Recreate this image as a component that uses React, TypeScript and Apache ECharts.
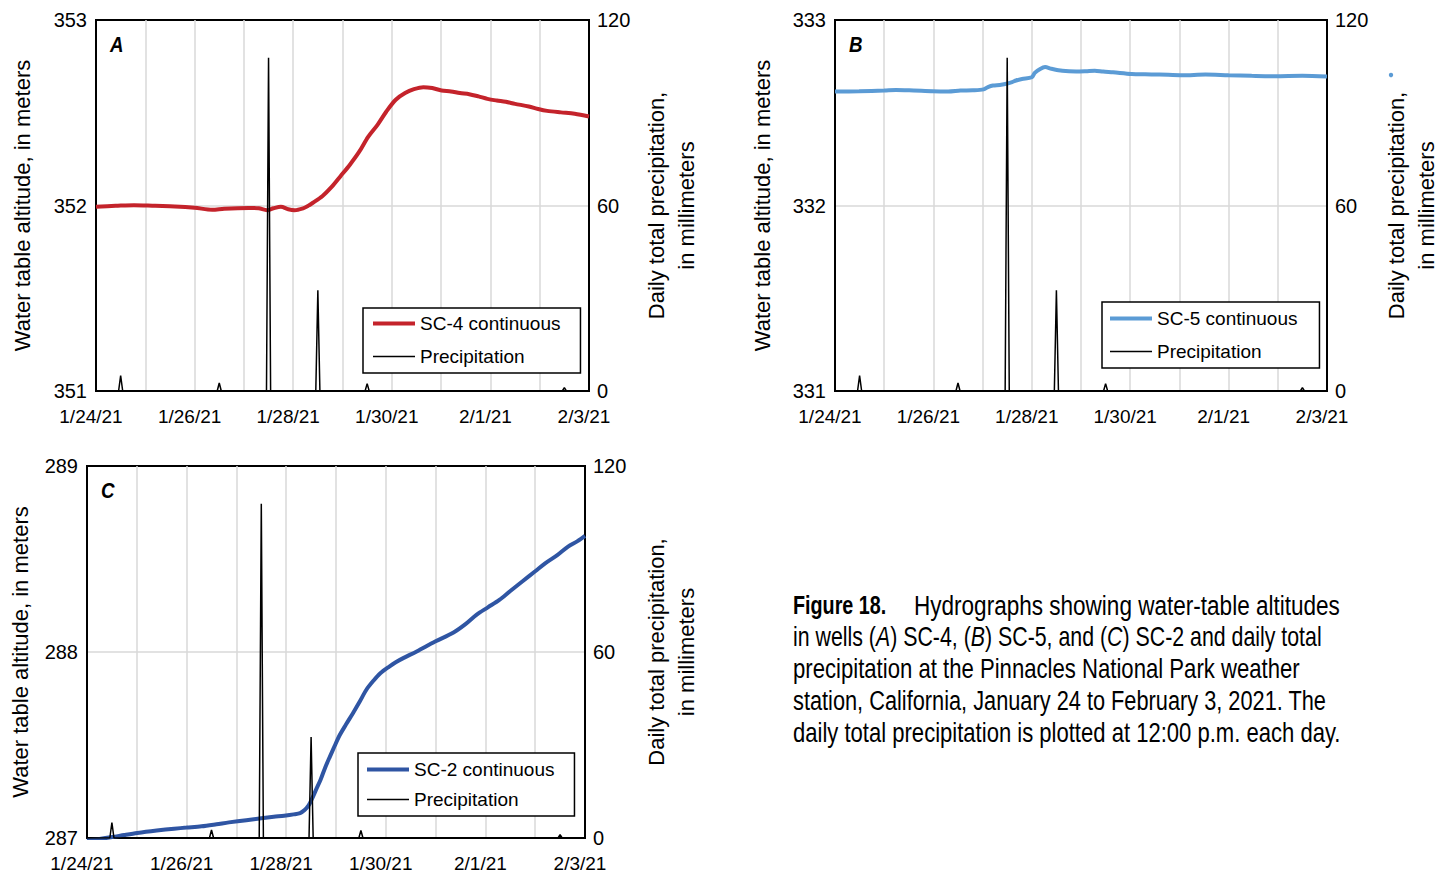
import React, { useEffect, useRef } from 'react';
import * as echarts from 'echarts';

// ---------- data ----------
const xTickLabels = ['1/24/21', '1/26/21', '1/28/21', '1/30/21', '2/1/21', '2/3/21'];
// daily total precipitation (mm), plotted at 12:00 p.m. of 1/24 ... 2/2
const dailyPrecipMm = [5.0, 0, 2.6, 107.8, 32.6, 2.4, 0, 0, 0, 1.1];

// days since 1/24/21 00:00
const sc4Days = [0, 0.4, 0.77, 1.2, 1.6, 2.0, 2.36, 2.6, 3.1, 3.3, 3.47, 3.6, 3.75, 3.9, 4.03, 4.2, 4.3, 4.4, 4.59, 4.78, 4.96, 5.15, 5.34, 5.52, 5.71, 5.89, 6.08, 6.27, 6.45, 6.64, 6.82, 7.01, 7.2, 7.38, 7.57, 7.76, 7.94, 8.13, 8.31, 8.5, 8.78, 8.97, 9.15, 9.43, 9.71, 10];
const sc4Level = [351.993, 351.998, 352.002, 351.998, 351.995, 351.988, 351.977, 351.983, 351.987, 351.985, 351.975, 351.985, 351.993, 351.98, 351.975, 351.985, 351.998, 352.015, 352.05, 352.1, 352.158, 352.22, 352.29, 352.37, 352.435, 352.507, 352.57, 352.606, 352.627, 352.638, 352.633, 352.62, 352.615, 352.606, 352.6, 352.588, 352.575, 352.566, 352.559, 352.548, 352.534, 352.52, 352.51, 352.502, 352.495, 352.48];

const sc5Days = [0, 0.49, 1.0, 1.24, 1.6, 1.99, 2.3, 2.55, 2.8, 3.02, 3.12, 3.21, 3.35, 3.46, 3.6, 3.68, 3.8, 4.0, 4.06, 4.17, 4.27, 4.4, 4.62, 4.9, 5.1, 5.28, 5.45, 5.65, 6.03, 6.3, 6.59, 7.06, 7.53, 8.0, 8.47, 8.94, 9.5, 10];
const sc5Level = [332.614, 332.616, 332.62, 332.623, 332.62, 332.616, 332.615, 332.62, 332.621, 332.626, 332.64, 332.647, 332.65, 332.655, 332.665, 332.674, 332.682, 332.691, 332.715, 332.736, 332.746, 332.737, 332.726, 332.722, 332.724, 332.727, 332.722, 332.718, 332.709, 332.707, 332.706, 332.702, 332.706, 332.702, 332.699, 332.697, 332.699, 332.695];

const sc2Days = [0, 0.25, 0.51, 0.75, 1.01, 1.4, 1.75, 2.0, 2.3, 2.6, 2.85, 3.2, 3.5, 3.75, 3.96, 4.15, 4.28, 4.37, 4.45, 4.51, 4.6, 4.69, 4.78, 4.88, 4.97, 5.06, 5.2, 5.34, 5.48, 5.61, 5.75, 5.89, 6.07, 6.2, 6.35, 6.62, 6.99, 7.36, 7.6, 7.82, 8.05, 8.28, 8.5, 8.74, 9.0, 9.2, 9.45, 9.66, 9.85, 10];
const sc2Level = [286.988, 286.995, 287.005, 287.016, 287.027, 287.04, 287.05, 287.056, 287.063, 287.074, 287.084, 287.096, 287.106, 287.114, 287.12, 287.127, 287.134, 287.15, 287.175, 287.206, 287.26, 287.313, 287.377, 287.439, 287.493, 287.546, 287.61, 287.671, 287.735, 287.797, 287.845, 287.886, 287.922, 287.945, 287.967, 288.003, 288.056, 288.105, 288.15, 288.2, 288.24, 288.28, 288.328, 288.379, 288.434, 288.477, 288.522, 288.567, 288.596, 288.624];

const wellNames = ['SC-4 continuous', 'SC-5 continuous', 'SC-2 continuous'];
const wellColors = ['#c4232b', '#5b9bd5', '#2f55a3'];
const yRanges = [[351, 353], [331, 333], [287, 289]];
const panelLetters = ['A', 'B', 'C'];

// ---------- styling ----------
const SANS = '"Liberation Sans", Arial, sans-serif';

const grids = [
  { left: 96, top: 20, width: 493, height: 371 },
  { left: 835, top: 20, width: 492, height: 371 },
  { left: 87, top: 466, width: 498, height: 372 },
];
const legendPos = [
  { left: 363, top: 308, itemGap: 14, padding: [6, 20, 7, 8] },
  { left: 1102, top: 302, itemGap: 14, padding: [7, 22, 7, 6] },
  { left: 358, top: 753, itemGap: 11, padding: [7, 20, 7, 7] },
];
const leftNameGap = [60, 59, 53];
const rightNameGap = [52, 54, 56];

function zip(xs: number[], ys: number[]) {
  return xs.map((x, i) => [x, ys[i]]);
}

function precipData() {
  const w = 1 / 24;
  const out: number[][] = [[0, 0]];
  dailyPrecipMm.forEach((v, i) => {
    const noon = i + 0.5;
    out.push([noon - w, 0], [noon, v], [noon + w, 0]);
  });
  out.push([10, 0]);
  return out;
}

function buildOption() {
  const levelSeries = [zip(sc4Days, sc4Level), zip(sc5Days, sc5Level), zip(sc2Days, sc2Level)];
  const gridOpts: any[] = [];
  const xAxes: any[] = [];
  const yAxes: any[] = [];
  const series: any[] = [];
  const legends: any[] = [];
  const graphics: any[] = [];

  for (let p = 0; p < 3; p++) {
    gridOpts.push({ ...grids[p], show: true, borderColor: '#000', borderWidth: 2, backgroundColor: '#fff', containLabel: false });
    xAxes.push({
      type: 'value', gridIndex: p, min: 0, max: 10, interval: 1,
      axisLine: { show: true, lineStyle: { color: '#000', width: 2 } },
      axisTick: { show: false },
      splitLine: { show: true, showMinLine: false, showMaxLine: false, lineStyle: { color: '#d9d9d9', width: 1.5 } },
      axisLabel: {
        color: '#000', fontSize: 19, fontFamily: SANS, margin: 16, padding: [0, 10, 0, 0],
        formatter: (v: number) => (v % 2 === 0 ? xTickLabels[v / 2] : ''),
      },
    });
    yAxes.push({
      type: 'value', gridIndex: p, position: 'left', min: yRanges[p][0], max: yRanges[p][1], interval: 1,
      name: 'Water table altitude, in meters', nameLocation: 'middle', nameGap: leftNameGap[p],
      nameTextStyle: { color: '#000', fontSize: 22, fontFamily: SANS, lineHeight: 28 },
      axisLine: { show: true, lineStyle: { color: '#000', width: 2 } },
      axisTick: { show: false },
      splitLine: { show: true, showMinLine: false, showMaxLine: false, lineStyle: { color: '#d9d9d9', width: 1.5 } },
      axisLabel: { color: '#000', fontSize: 20, fontFamily: SANS, margin: 9 },
    });
    yAxes.push({
      type: 'value', gridIndex: p, position: 'right', min: 0, max: 120, interval: 60,
      name: 'Daily total precipitation,\nin millimeters', nameLocation: 'middle', nameGap: rightNameGap[p],
      nameTextStyle: { color: '#000', fontSize: 22, fontFamily: SANS, lineHeight: 30 },
      axisLine: { show: true, lineStyle: { color: '#000', width: 2 } },
      axisTick: { show: false },
      splitLine: { show: false },
      axisLabel: { color: '#000', fontSize: 20, fontFamily: SANS, margin: 8 },
    });
    series.push({
      name: wellNames[p], type: 'line', xAxisIndex: p, yAxisIndex: p * 2,
      data: levelSeries[p], showSymbol: false, symbol: 'none', smooth: 0.3,
      lineStyle: { color: wellColors[p], width: 4 }, itemStyle: { color: wellColors[p] },
      z: 2,
    });
    series.push({
      name: 'Precipitation', type: 'line', xAxisIndex: p, yAxisIndex: p * 2 + 1,
      data: precipData(), showSymbol: false, symbol: 'none',
      lineStyle: { color: '#000', width: 1.5 }, itemStyle: { color: '#000' },
      z: 3,
    });
    legends.push({
      left: legendPos[p].left, top: legendPos[p].top, orient: 'vertical',
      itemGap: legendPos[p].itemGap, padding: legendPos[p].padding,
      itemWidth: 42, itemHeight: 14,
      backgroundColor: '#fff', borderColor: '#000', borderWidth: 1.5, borderRadius: 0,
      selectedMode: false,
      textStyle: { color: '#000', fontSize: 19, fontFamily: SANS },
      data: [
        { name: wellNames[p], lineStyle: { width: 4, color: wellColors[p] }, itemStyle: { opacity: 0 } },
        { name: 'Precipitation', lineStyle: { width: 1.5, color: '#000' }, itemStyle: { opacity: 0 } },
      ],
    });
    graphics.push({
      type: 'text', x: grids[p].left + 14, y: grids[p].top + 24, scaleX: 0.85,
      style: { text: panelLetters[p], fontSize: 22, fontWeight: 'bold', fontStyle: 'italic', fontFamily: SANS, fill: '#000', verticalAlign: 'middle' },
    });
  }

  // stray blue marker beside panel B's right axis title
  graphics.push({ type: 'circle', shape: { cx: 1391, cy: 75, r: 2.2 }, style: { fill: '#5b9bd5' } });

  // caption (condensed look via horizontal scaling)
  const capStyle = { fontSize: 27, fontFamily: SANS, fill: '#000', verticalAlign: 'middle' };
  const capLines = [
    'precipitation at the Pinnacles National Park weather',
    'station, California, January 24 to February 3, 2021. The',
    'daily total precipitation is plotted at 12:00 p.m. each day.',
  ];
  const capScales = [0.82, 0.806, 0.817];
  graphics.push({ type: 'text', x: 793, y: 605, scaleX: 0.76, style: { ...capStyle, fontSize: 26, text: 'Figure 18.', fontWeight: 'bold' } });
  graphics.push({ type: 'text', x: 914, y: 605, scaleX: 0.835, style: { ...capStyle, text: 'Hydrographs showing water-table altitudes' } });
  graphics.push({
    type: 'text', x: 793, y: 637, scaleX: 0.79,
    style: {
      ...capStyle,
      text: 'in wells ({i|A}) SC-4, ({i|B}) SC-5, and ({i|C}) SC-2 and daily total',
      rich: { i: { fontStyle: 'italic', fontSize: 27, fontFamily: SANS, fill: '#000' } },
    },
  });
  capLines.forEach((t, i) => {
    graphics.push({ type: 'text', x: 793, y: 669 + i * 32, scaleX: capScales[i], style: { ...capStyle, text: t } });
  });

  return {
    animation: false,
    backgroundColor: '#fff',
    grid: gridOpts,
    xAxis: xAxes,
    yAxis: yAxes,
    legend: legends,
    series,
    graphic: graphics,
  };
}

export default function App() {
  const ref = useRef<HTMLDivElement>(null);
  useEffect(() => {
    document.body.style.margin = '0';
    const chart = echarts.init(ref.current as HTMLDivElement, undefined, { renderer: 'svg' });
    chart.setOption(buildOption() as any);
    return () => chart.dispose();
  }, []);
  return <div ref={ref} style={{ width: 1445, height: 877 }} />;
}
